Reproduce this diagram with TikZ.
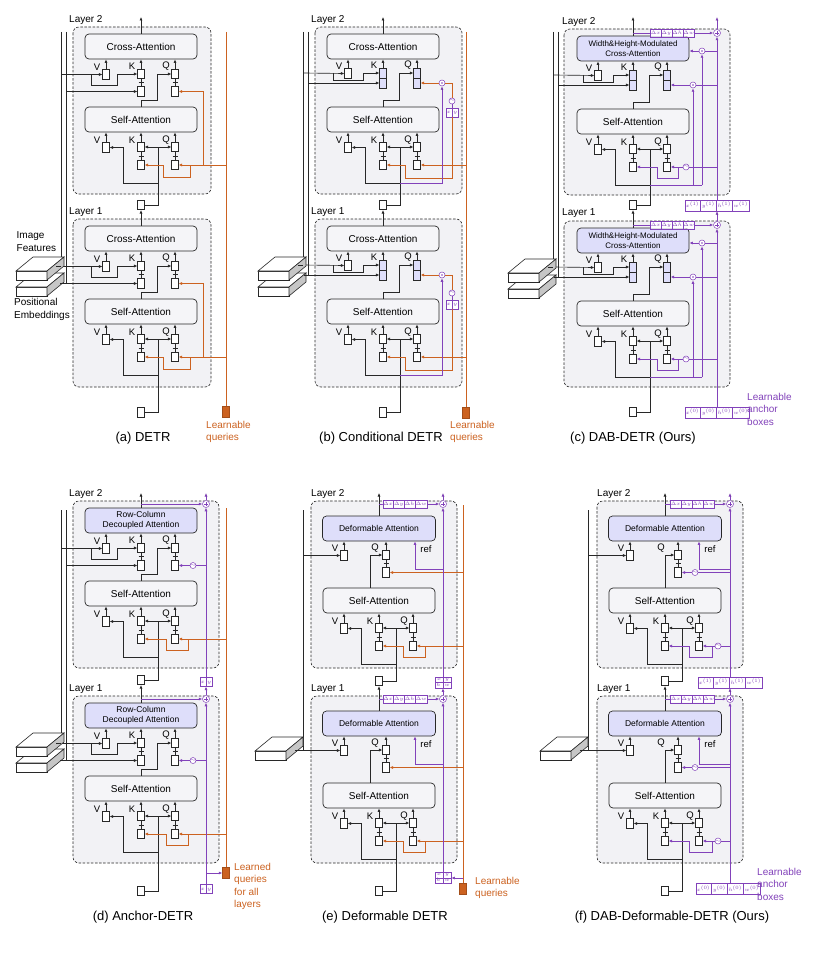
\documentclass[tikz,border=0pt]{standalone}
\usepackage{fontspec}
\setmainfont{Liberation Sans}
\usetikzlibrary{arrows.meta,calc,shapes.multipart}
\definecolor{dorange}{RGB}{204,98,32}
\definecolor{dpurple}{RGB}{130,66,186}
\definecolor{lav}{RGB}{222,222,250}
\definecolor{lfill}{RGB}{242,242,245}
\definecolor{afill}{RGB}{245,245,248}
\definecolor{lk}{RGB}{40,40,40}
\newcommand\fsz[1]{\fontsize{#1}{#1}\selectfont}
\newcommand\clx[1]{\strut$#1$}
\tikzset{
  lbox/.style={draw=lk, dash pattern=on 2.5pt off 1.6pt, rounded corners=6pt, fill=lfill, line width=0.6pt},
  attn/.style={draw=lk, rounded corners=4pt, fill=afill, minimum width=112pt, minimum height=25pt, inner sep=0pt, font=\fsz{10}, line width=0.7pt, align=center},
  attnL/.style={attn, fill=lav, font=\fontsize{8.5}{10}\selectfont},
  sb/.style={draw=lk, fill=white, minimum width=6.5pt, minimum height=9.5pt, inner sep=0pt, line width=0.6pt},
  sbL/.style={sb, fill=lav, minimum height=20pt},
  arr/.style={-{Latex[length=3.5pt,width=3pt]}},
  wire/.style={draw=lk, line width=0.65pt},
  ow/.style={draw=dorange, line width=0.7pt},
  pw/.style={draw=dpurple, line width=0.7pt},
  lbl/.style={font=\fsz{9.5}, inner sep=0pt},
  ltxt/.style={font=\fsz{10}, inner sep=0pt, anchor=west},
  captxt/.style={font=\fsz{13}, inner sep=0pt},
  otxt/.style={font=\fontsize{10}{12.5}\selectfont, text=dorange, align=left, anchor=north west, inner sep=0pt},
  ptxt/.style={otxt, text=dpurple},
  osq/.style={fill=dorange, draw=dorange!80!black, minimum width=7pt, minimum height=11pt, inner sep=0pt},
  odot/.style={circle, draw=dpurple, fill=white, minimum size=6pt, inner sep=0pt, line width=0.5pt, path picture={\fill[dpurple] (path picture bounding box.center) circle (0.9pt);}},
  sinc/.style={circle, draw=dpurple, fill=white, minimum size=6pt, inner sep=0pt, line width=0.5pt, font=\fsz{5}, text=dpurple},
  pcirc/.style={circle, draw=dpurple, fill=white, minimum size=7pt, inner sep=0pt, line width=0.5pt, path picture={\draw[dpurple, line width=0.5pt] ([xshift=-2.2pt]path picture bounding box.center) -- ([xshift=2.2pt]path picture bounding box.center) ([yshift=-2.2pt]path picture bounding box.center) -- ([yshift=2.2pt]path picture bounding box.center);}},
  cells/.style={rectangle split, rectangle split horizontal, rectangle split parts=#1, draw=dpurple, fill=white, text=dpurple, inner xsep=1.1pt, inner ysep=1.8pt, line width=0.4pt, font=\fsz{5.2}},
  dsty/.style={font=\fsz{4}, inner xsep=0.5pt, inner ysep=1.4pt},
  cellsV/.style={rectangle split, rectangle split parts=2, draw=dpurple, fill=white, text=dpurple, inner xsep=1.5pt, inner ysep=0.3pt, line width=0.4pt, font=\fsz{4.5}},
}
\newcommand\plusm[2]{%
  \draw[wire] (#2.north) -- (#1.south);
  \draw[wire] ($(#1.south)!0.5!(#2.north)+(-2.5,0)$) -- ++(5,0);}
\newcommand\selfpart[2]{%
  \node[attn] (#1sa) at (141,119.5) {Self-Attention};
  \node[sb] (#1sv) at (106,147.5) {};
  \node[sb] (#1sk) at (141,147) {};
  \node[sb] (#1skl) at (141,165) {};
  \node[sb] (#1sq) at (175,147) {};
  \node[sb] (#1sql) at (175,165) {};
  \draw[wire,arr] (#1sv.north) -- (#1sv.north |- #1sa.south);
  \draw[wire,arr] (#1sk.north) -- (#1sk.north |- #1sa.south);
  \draw[wire,arr] (#1sq.north) -- (#1sq.north |- #1sa.south);
  \plusm{#1sk}{#1skl}\plusm{#1sq}{#1sql}
  \node[lbl] (#1svt) at (97,140) {V};
  \node[lbl] (#1skt) at (132,140) {K};
  \node[lbl] (#1sqt) at (166,140) {Q};
  \coordinate (#1j) at (158,147);
  \coordinate (#1jv) at (158,183);
  \draw[wire] (#2.east) -| (#1j);
  \draw[wire,arr] (#1j) -- (#1sk.east);
  \draw[wire,arr] (#1j) -- (#1sq.west);
  \draw[wire,arr] (#1jv) -- (123,183) |- (#1sv.east);
}
\newcommand\crossA[3]{%
  \node[#2] (#1ca) at (141,46.5) {#3};
  \node[sb] (#1cv) at (106,74.5) {};
  \node[sb] (#1ck) at (141,74) {};
  \node[sb] (#1ckl) at (141,91.5) {};
  \node[sb] (#1cq) at (175,74) {};
  \node[sb] (#1cql) at (175,91.5) {};
  \draw[wire,arr] (#1cv.north) -- (#1cv.north |- #1ca.south);
  \draw[wire,arr] (#1ck.north) -- (#1ck.north |- #1ca.south);
  \draw[wire,arr] (#1cq.north) -- (#1cq.north |- #1ca.south);
  \plusm{#1ck}{#1ckl}\plusm{#1cq}{#1cql}
  \node[lbl] (#1cvt) at (97,67) {V};
  \node[lbl] (#1ckt) at (132,66) {K};
  \node[lbl] (#1cqt) at (166,66) {Q};
  \draw[wire,arr] (61,74.5) -- (#1cv.west);
  \draw[wire,arr] (91,74.5) -- (91,85) -- (117,85) -- (117,74) -- (#1ck.west);
  \draw[wire,arr] (66,91.5) -- (#1ckl.west);
  \draw[wire,arr] (#1sa.north) -- (141,100) -- (157,100) |- (#1cq.west);
}
\newcommand\crossB[3]{%
  \node[#2] (#1ca) at (141,46.5) {#3};
  \node[sb] (#1cv) at (106,73.5) {};
  \node[sbL] (#1ck) at (141,78) {};
  \node[sbL] (#1cq) at (175,78) {};
  \draw[wire] (#1ck.west) -- (#1ck.east);
  \draw[wire] (#1cq.west) -- (#1cq.east);
  \draw[wire,arr] (#1cv.north) -- (#1cv.north |- #1ca.south);
  \draw[wire,arr] (#1ck.north) -- (#1ck.north |- #1ca.south);
  \draw[wire,arr] (#1cq.north) -- (#1cq.north |- #1ca.south);
  \node[lbl] (#1cvt) at (97,66) {V};
  \node[lbl] (#1ckt) at (132,65) {K};
  \node[lbl] (#1cqt) at (166,65) {Q};
  \draw[wire,arr] (61,73) -- (#1cv.west);
  \draw[wire,arr] (91,73) -- (91,80) -- (121,80) -- (121,73) -- ([yshift=5pt]#1ck.west);
  \draw[wire,arr] (66,83) -- ([yshift=-5pt]#1ck.west);
  \draw[wire,arr] (#1sa.north) -- (141,100) -- (157,100) |- ([yshift=5pt]#1cq.west);
}
\newcommand\crossD[5]{%
  \node[attnL, minimum width=113pt] (#1ca) at (141,47.5) {Deformable Attention};
  \node[sb] (#1cv) at (106,74.5) {};
  \node[sb] (#1cq) at (#2,74) {};
  \node[sb] (#1cql) at (#2,91.5) {};
  \draw[wire,arr] (#1cv.north) -- (#1cv.north |- #1ca.south);
  \draw[wire,arr] (#1cq.north) -- (#1cq.north |- #1ca.south);
  \plusm{#1cq}{#1cql}
  \node[lbl] (#1cvt) at (97,67) {V};
  \node[lbl] (#1cqt) at (137,67) {Q};
  \node[lbl] (#1rt) at ({#3+11},68) {ref};
  \coordinate (#1ref) at (#3,88);
  \draw[wire,arr] (#4,74.5) -- (#1cv.west);
  \draw[wire,arr] ([xshift=#5]#1sa.north) |- (#1cq.west);
}
\newcommand\orangeS[2]{%
  \draw[ow,arr] (#2,165) -- (#1sql.east);
  \draw[ow,arr] (190,165) -- (190,177) -| (163,165) -- (#1skl.east);}
\newcommand\orangeC[1]{%
  \draw[ow,arr] (203,165) -- (203,91.5) -- (#1cql.east);}
\newcommand\condB[2]{%
  \node[odot] (#1dot) at (200,83) {};
  \node[sinc] (#1sin) at (210,101) {$\sim$};
  \node[cells=2] (#1xy) at (210,112.5) {\clx{x}\nodepart{two}\clx{y}};
  \draw[ow,arr] (#2,165) -- (#1sql.east);
  \draw[ow,arr] (#1xy.south) -- (210,178) -| (163,165) -- (#1skl.east);
  \draw[pw] (#1xy.north) -- (#1sin.south);
  \draw[ow] (#1sin.north) |- (#1dot.east);
  \draw[ow,arr] (#1dot.west) -- ([yshift=-5pt]#1cq.east);
  \draw[pw,arr] (#1jv) -- (200,183) -- (#1dot.south);
}
\newcommand\dabC[1]{%
  \node[odot] (#1d1) at (210,49) {};
  \node[odot] (#1d2) at (201,83) {};
  \node[sinc] (#1sin) at (194,165) {$\sim$};
  \draw[pw] (225,49) -- (#1d1.east);
  \draw[pw,arr] (#1d1.west) -- (#1d1 -| #1ca.east);
  \draw[pw] (225,83) -- (#1d2.east);
  \draw[pw,arr] (#1d2.west) -- ([yshift=-5pt]#1cq.east);
  \draw[pw] (#1jv) -- (210,183);
  \draw[pw,arr] (210,183) -- (#1d1.south);
  \draw[pw,arr] (201,183) -- (#1d2.south);
  \draw[pw] (225,165) -- (#1sin.east);
  \draw[pw,arr] (#1sin.west) -- (#1sql.east);
  \draw[pw,arr] (186,165) -- (186,176) -| (165,165) -- (#1skl.east);
}
\newcommand\anchorD[1]{%
  \node[sinc] (#1sin) at (193,91.5) {$\sim$};
  \draw[pw] (206,91.5) -- (#1sin.east);
  \draw[pw,arr] (#1sin.west) -- (#1cql.east);
  \draw[ow,arr] (226,165) -- (#1sql.east);
  \draw[ow,arr] (188,165) -- (188,176) -| (166,165) -- (#1skl.east);
}
\newcommand\deformE[1]{%
  \draw[ow,arr] (225,91.5) -- (#1cql.east);
  \draw[ow,arr] (225,165) -- (#1sql.east);
  \draw[ow,arr] (187,165) -- (187,176) -| (165,165) -- (#1skl.east);
  \draw[pw,arr] (205,88) -| (#1ca.south -| #1ref);
}
\newcommand\deformF[1]{%
  \node[sinc] (#1sin) at (171,91.5) {$\sim$};
  \draw[pw] (206,91.5) -- (#1sin.east);
  \draw[pw,arr] (#1sin.west) -- (#1cql.east);
  \node[sinc] (#1sinb) at (194,165) {$\sim$};
  \draw[pw] (206,165) -- (#1sinb.east);
  \draw[pw,arr] (#1sinb.west) -- (#1sql.east);
  \draw[pw,arr] (188,165) -- (188,176) -| (165,165) -- (#1skl.east);
  \draw[pw,arr] (206,88) -| (#1ca.south -| #1ref);
}
\newcommand\slab[2]{%
  \filldraw[draw=lk, fill=white, line width=0.6pt] (#1,#2) rectangle ++(31,9);
  \filldraw[draw=lk, fill=white, line width=0.6pt] (#1,#2) -- ++(17,-14) -- ++(31,0) -- ++(-17,14) -- cycle;
  \filldraw[draw=lk, fill=gray!45, line width=0.6pt] ({#1+31},#2) -- ++(17,-14) -- ++(0,9) -- ++(-17,14) -- cycle;
}
\newcommand\dtxt{\clx{\Delta x}\nodepart{two}\clx{\Delta y}\nodepart{three}\clx{\Delta h}\nodepart{four}\clx{\Delta w}}
\newcommand\aone{\clx{x^{(1)}}\nodepart{two}\clx{y^{(1)}}\nodepart{three}\clx{h^{(1)}}\nodepart{four}\clx{w^{(1)}}}
\newcommand\azero{\clx{x^{(0)}}\nodepart{two}\clx{y^{(0)}}\nodepart{three}\clx{h^{(0)}}\nodepart{four}\clx{w^{(0)}}}
\begin{document}
\begin{tikzpicture}[x=1pt,y=-1pt]
\path[use as bounding box, fill=white] (0,0) rectangle (830,955);

%%%%%%%% (a) DETR
\begin{scope}
\draw[lbox] (73,27) rectangle (211,194);
\draw[lbox] (73,219) rectangle (211,387);
\node[ltxt] (aL2) at (69,20) {Layer 2};
\node[ltxt] (aL1) at (69,212) {Layer 1};
\node[sb] (aE2) at (141,205) {};
\node[sb] (aE1) at (141,412.5) {};
\coordinate (aOut) at (141,17);
\node[osq] (aQ) at (226,412) {};
\draw[ow] (226,32) -- (aQ.north);
\draw[wire] (61,32) -- (61,266.5);
\draw[wire] (66,32) -- (66,283.5);
\selfpart{a2}{aE2}\crossA{a2}{attn}{Cross-Attention}\orangeS{a2}{226}\orangeC{a2}
\begin{scope}[shift={(0,192)}]
\selfpart{a1}{aE1}\crossA{a1}{attn}{Cross-Attention}\orangeS{a1}{226}\orangeC{a1}
\end{scope}
\draw[wire,arr] (a2ca) -- (aOut);
\draw[wire,arr] (a1ca) -- (aE2);
\slab{16}{287}\slab{16}{271}
\draw[wire] (56,266.5) -- (61,266.5);
\draw[wire] (60,283.5) -- (66,283.5);
\node[otxt] (aLq) at (206,421) {Learnable\\queries};
\node[captxt] (aCap) at (143,438) {(a) DETR};
\node[anchor=north west, align=left, inner sep=0pt, font=\fontsize{10}{13}\selectfont] (aImf) at (16.5,231) {Image\\Features};
\node[anchor=north west, align=left, inner sep=0pt, font=\fontsize{10}{13}\selectfont] (aPos) at (14,298) {Positional\\Embeddings};
\end{scope}

%%%%%%%% (b) Conditional DETR
\begin{scope}[shift={(242,0)}]
\draw[lbox] (73,27) rectangle (220,194);
\draw[lbox] (73,219) rectangle (220,387);
\node[ltxt] (bL2) at (69,20) {Layer 2};
\node[ltxt] (bL1) at (69,212) {Layer 1};
\node[sb] (bE2) at (141,205) {};
\node[sb] (bE1) at (141,412.5) {};
\coordinate (bOut) at (141,17);
\node[osq] (bQ) at (224,413) {};
\draw[ow] (224,32) -- (bQ.north);
\draw[wire] (61,32) -- (61,265);
\draw[wire] (66,32) -- (66,275);
\selfpart{b2}{bE2}\crossB{b2}{attn}{Cross-Attention}\condB{b2}{224}
\begin{scope}[shift={(0,192)}]
\selfpart{b1}{bE1}\crossB{b1}{attn}{Cross-Attention}\condB{b1}{224}
\end{scope}
\draw[wire,arr] (b2ca) -- (bOut);
\draw[wire,arr] (b1ca) -- (bE2);
\slab{16}{287}\slab{16}{271}
\draw[wire] (56,265) -- (61,265);
\draw[wire] (62,275) -- (66,275);
\node[otxt] (bLq) at (208,421) {Learnable\\queries};
\node[captxt] (bCap) at (139,438) {(b) Conditional DETR};
\end{scope}

%%%%%%%% (c) DAB-DETR
\begin{scope}[shift={(492,2)}]
\draw[lbox] (72,27) rectangle (238,193);
\draw[lbox] (72,219) rectangle (238,385);
\node[ltxt] (cL2) at (70,20) {Layer 2};
\node[ltxt] (cL1) at (70,211) {Layer 1};
\node[sb] (cE2) at (141,203) {};
\node[sb] (cE1) at (141,410) {};
\coordinate (cOut) at (141,15);
\coordinate (cPOut) at (225,15);
\draw[wire] (61,30) -- (61,265);
\draw[wire] (66,30) -- (66,275);
\selfpart{c2}{cE2}\crossB{c2}{attnL,font=\fontsize{8}{9.5}\selectfont}{Width\&Height-Modulated\\Cross-Attention}\dabC{c2}
\begin{scope}[shift={(0,192)}]
\selfpart{c1}{cE1}\crossB{c1}{attnL,font=\fontsize{8}{9.5}\selectfont}{Width\&Height-Modulated\\Cross-Attention}\dabC{c1}
\end{scope}
\node[pcirc] (c2p) at (225,31) {};
\node[pcirc] (c1p) at (225,223) {};
\node[cells=4] (cx1) at (225,203.5) {\aone};
\node[cells=4] (cx0) at (225,410.5) {\azero};
\draw[pw,arr] (cx0) -- (c1p);
\draw[pw,arr] (c1p) -- (cx1);
\draw[pw,arr] (cx1) -- (c2p);
\draw[pw,arr] (c2p) -- (cPOut);
\draw[wire,arr] (c2ca) -- (cOut);
\draw[wire,arr] (c1ca) -- (cE2);
\coordinate (c2o) at (141,31);
\coordinate (c1o) at (141,223);
\draw[pw,arr] (c2o) -- (c2p);
\draw[pw,arr] (c1o) -- (c1p);
\node[cells=4,dsty] (c2d) at (180.5,31) {\dtxt};
\node[cells=4,dsty] (c1d) at (180.5,223) {\dtxt};
\slab{16}{287}\slab{16}{271}
\draw[wire] (56,265) -- (61,265);
\draw[wire] (62,275) -- (66,275);
\node[ptxt] (cLa) at (255,391) {Learnable\\anchor\\boxes};
\node[captxt] (cCap) at (141,436) {(c) DAB-DETR (Ours)};
\end{scope}

%%%%%%%% (d) Anchor-DETR
\begin{scope}[shift={(0,474)}]
\draw[lbox] (73,27) rectangle (219,194);
\draw[lbox] (73,222) rectangle (219,389);
\node[ltxt] (dL2) at (69,20) {Layer 2};
\node[ltxt] (dL1) at (69,215) {Layer 1};
\node[sb] (dE2) at (141,206) {};
\node[sb] (dE1) at (141,417) {};
\coordinate (dOut) at (141,19);
\coordinate (dPOut) at (206,19);
\node[osq] (dQ) at (226,399) {};
\draw[ow] (226,34) -- (dQ.north);
\draw[wire] (61,36) -- (61,269.5);
\draw[wire] (66,36) -- (66,286.5);
\selfpart{d2}{dE2}\crossA{d2}{attnL}{Row-Column\\Decoupled Attention}\anchorD{d2}
\begin{scope}[shift={(0,195)}]
\selfpart{d1}{dE1}\crossA{d1}{attnL}{Row-Column\\Decoupled Attention}\anchorD{d1}
\end{scope}
\node[pcirc] (d2p) at (206,30) {};
\node[pcirc] (d1p) at (206,225) {};
\node[cells=2] (dxy1) at (206,208) {\clx{x}\nodepart{two}\clx{y}};
\node[cells=2] (dxy0) at (206,415) {\clx{x}\nodepart{two}\clx{y}};
\draw[pw,arr] (dxy0) -- (d1p);
\draw[pw,arr] (d1p) -- (dxy1);
\draw[pw,arr] (dxy1) -- (d2p);
\draw[pw,arr] (d2p) -- (dPOut);
\coordinate (dbr) at (206,399);
\draw[pw,arr] (dbr) -- (dQ.west);
\draw[wire,arr] (d2ca) -- (dOut);
\draw[wire,arr] (d1ca) -- (dE2);
\coordinate (d2o) at (141,30);
\coordinate (d1o) at (141,225);
\draw[pw,arr] (d2o) -- (d2p);
\draw[pw,arr] (d1o) -- (d1p);
\slab{16}{289}\slab{16}{273}
\draw[wire] (56,269.5) -- (61,269.5);
\draw[wire] (60,286.5) -- (66,286.5);
\node[otxt] (dLq) at (234,389) {Learned\\queries\\for all\\layers};
\node[captxt] (dCap) at (143,443) {(d) Anchor-DETR};
\end{scope}

%%%%%%%% (e) Deformable DETR
\begin{scope}[shift={(238,474)}]
\draw[lbox] (73,27) rectangle (219,194);
\draw[lbox] (73,222) rectangle (219,389);
\node[ltxt] (eL2) at (73,20) {Layer 2};
\node[ltxt] (eL1) at (73,215) {Layer 1};
\node[sb] (eE2) at (141,207) {};
\node[sb] (eE1) at (141,417) {};
\coordinate (eOut) at (141,19);
\coordinate (ePOut) at (205,19);
\node[osq] (eQ) at (225,415) {};
\draw[ow] (225,31) -- (eQ.north);
\draw[wire] (65,36) -- (65,276.5);
\begin{scope}[shift={(0,7)}]
\selfpart{e2}{eE2}\crossD{e2}{148}{177}{65}{-9pt}\deformE{e2}
\end{scope}
\begin{scope}[shift={(0,202)}]
\selfpart{e1}{eE1}\crossD{e1}{148}{177}{65}{-9pt}\deformE{e1}
\end{scope}
\node[pcirc] (e2p) at (205,30) {};
\node[pcirc] (e1p) at (205,225) {};
\node[cellsV] (exy1) at (205,208.5) {\clx{x\;\;y}\nodepart{two}\clx{h\;\;w}};
\node[cellsV] (exy0) at (205,404) {\clx{x\;\;y}\nodepart{two}\clx{h\;\;w}};
\draw[dpurple, line width=0.4pt] (exy1.north) -- (exy1.south);
\draw[dpurple, line width=0.4pt] (exy0.north) -- (exy0.south);
\draw[pw,arr] (exy0) -- (e1p);
\draw[pw,arr] (e1p) -- (exy1);
\draw[pw,arr] (exy1) -- (e2p);
\draw[pw,arr] (e2p) -- (ePOut);
\coordinate (ebr) at (225,404);
\draw[pw,arr] (ebr) -- (exy0.east);
\draw[wire,arr] (e2ca) -- (eOut);
\draw[wire,arr] (e1ca) -- (eE2);
\coordinate (e2o) at (141,30);
\coordinate (e1o) at (141,225);
\draw[pw,arr] (e2o) -- (e2p);
\draw[pw,arr] (e1o) -- (e1p);
\node[cells=4,dsty] (e2d) at (167,30) {\dtxt};
\node[cells=4,dsty] (e1d) at (167,225) {\dtxt};
\slab{17}{277}
\draw[wire] (57,276.5) -- (65,276.5);
\node[otxt] (eLq) at (237,403) {Learnable\\queries};
\node[captxt] (eCap) at (147,443) {(e) Deformable DETR};
\end{scope}

%%%%%%%% (f) DAB-Deformable-DETR
\begin{scope}[shift={(524,474)}]
\draw[lbox] (73,27) rectangle (219,194);
\draw[lbox] (73,222) rectangle (219,389);
\node[ltxt] (fL2) at (73,20) {Layer 2};
\node[ltxt] (fL1) at (73,215) {Layer 1};
\node[sb] (fE2) at (141,207) {};
\node[sb] (fE1) at (141,417) {};
\coordinate (fOut) at (141,19);
\coordinate (fPOut) at (206,19);
\draw[wire] (64,36) -- (64,276.5);
\begin{scope}[shift={(0,7)}]
\selfpart{f2}{fE2}\crossD{f2}{154}{175}{64}{0pt}\deformF{f2}
\end{scope}
\begin{scope}[shift={(0,202)}]
\selfpart{f1}{fE1}\crossD{f1}{154}{175}{64}{0pt}\deformF{f1}
\end{scope}
\node[pcirc] (f2p) at (206,30) {};
\node[pcirc] (f1p) at (206,225) {};
\node[cells=4] (fx1) at (206,208.5) {\aone};
\node[cells=4] (fx0) at (204,415) {\azero};
\draw[pw,arr] (fx0.north -| f1p) -- (f1p);
\draw[pw,arr] (f1p) -- (fx1);
\draw[pw,arr] (fx1) -- (f2p);
\draw[pw,arr] (f2p) -- (fPOut);
\draw[wire,arr] (f2ca) -- (fOut);
\draw[wire,arr] (f1ca) -- (fE2);
\coordinate (f2o) at (141,30);
\coordinate (f1o) at (141,225);
\draw[pw,arr] (f2o) -- (f2p);
\draw[pw,arr] (f1o) -- (f1p);
\node[cells=4,dsty] (f2d) at (168.5,30) {\dtxt};
\node[cells=4,dsty] (f1d) at (168.5,225) {\dtxt};
\slab{16}{277}
\draw[wire] (56,276.5) -- (64,276.5);
\node[ptxt] (fLa) at (233,394) {Learnable\\anchor\\boxes};
\node[captxt] (fCap) at (148,443) {(f) DAB-Deformable-DETR (Ours)};
\end{scope}
\end{tikzpicture}
\end{document}
